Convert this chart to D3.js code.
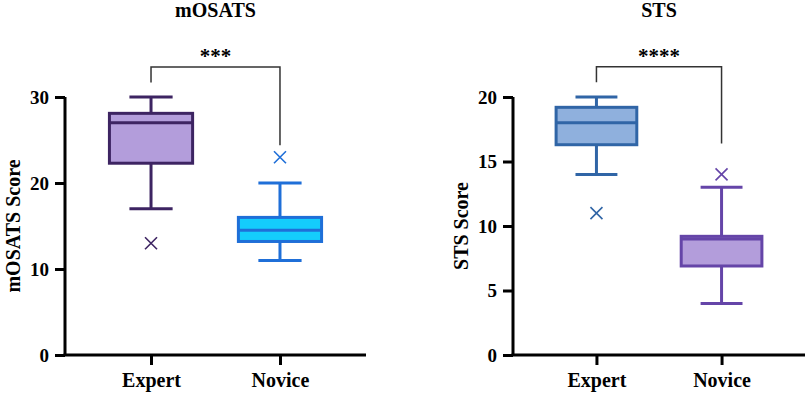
<!DOCTYPE html>
<html>
<head>
<meta charset="utf-8">
<script src="https://cdn.jsdelivr.net/npm/d3@7"></script>
<style>
  body { margin: 0; background: #fff; }
  svg text { font-family: "Liberation Serif", "Times New Roman", serif; font-weight: bold; fill: #000; }
</style>
</head>
<body>
<div id="chart"></div>
<script>
// groups on the x axis
var groups = ["Expert", "Novice"];

// mOSATS box stats per group
var mosatsMin = [17, 11];
var mosatsQ1 = [22.3, 13.2];
var mosatsMedian = [27, 14.5];
var mosatsQ3 = [28.1, 16];
var mosatsMax = [30, 20];
var mosatsOutliers = [[13], [23]];
var mosatsTicks = [0, 10, 20, 30];

// STS box stats per group
var stsMin = [14, 4];
var stsQ1 = [16.3, 6.9];
var stsMedian = [18, 9];
var stsQ3 = [19.2, 9.2];
var stsMax = [20, 13];
var stsOutliers = [[11], [14]];
var stsTicks = [0, 5, 10, 15, 20];

// significance brackets: [top, left leg end, right leg end] in data units
var mosatsBracket = [33.5, 31.7, 24.4];
var stsBracket = [22.35, 21.15, 16.4];

var svg = d3.select("#chart")
  .append("svg")
    .attr("width", 810)
    .attr("height", 394);

function boxPanel(opts) {
  var top = 97, bottom = 355;

  var x = d3.scalePoint()
    .domain(groups)
    .range([opts.left, opts.right])
    .padding(0.667);
  var y = d3.scaleLinear()
    .domain([0, d3.max(opts.ticks)])
    .range([bottom, top]);

  var g = svg.append("g");
  var step = x.step();
  var boxW = step * 0.645;
  var capW = step * 0.335;

  // y axis
  var yAxis = g.append("g")
    .attr("transform", "translate(" + opts.left + ",0)")
    .call(d3.axisLeft(y).tickValues(opts.ticks).tickSize(10).tickPadding(6).tickFormat(d3.format("d")));
  yAxis.select(".domain").attr("stroke-width", 3).attr("d", "M0," + top + "V" + bottom);
  yAxis.selectAll(".tick line").attr("stroke-width", 3);
  yAxis.selectAll(".tick text").style("font-size", "19px");

  // x axis
  var xAxis = g.append("g")
    .attr("transform", "translate(0," + bottom + ")")
    .call(d3.axisBottom(x).tickSize(10).tickPadding(10));
  xAxis.select(".domain").attr("stroke-width", 3).attr("d", "M" + (opts.left - 1.5) + ",0H" + opts.right);
  xAxis.selectAll(".tick line").attr("stroke-width", 3);
  xAxis.selectAll(".tick text").style("font-size", "20px").attr("dy", "0.62em");

  // boxes
  groups.forEach(function (name, i) {
    var cx = x(name);
    var stroke = opts.stroke[i];
    var sw = 3;
    // whiskers
    g.append("line")
      .attr("x1", cx).attr("x2", cx)
      .attr("y1", y(opts.max[i])).attr("y2", y(opts.q3[i]))
      .attr("stroke", stroke).attr("stroke-width", sw);
    g.append("line")
      .attr("x1", cx).attr("x2", cx)
      .attr("y1", y(opts.q1[i])).attr("y2", y(opts.min[i]))
      .attr("stroke", stroke).attr("stroke-width", sw);
    [opts.max[i], opts.min[i]].forEach(function (v) {
      g.append("line")
        .attr("x1", cx - capW / 2).attr("x2", cx + capW / 2)
        .attr("y1", y(v)).attr("y2", y(v))
        .attr("stroke", stroke).attr("stroke-width", sw);
    });
    // box
    g.append("rect")
      .attr("x", cx - boxW / 2)
      .attr("y", y(opts.q3[i]))
      .attr("width", boxW)
      .attr("height", y(opts.q1[i]) - y(opts.q3[i]))
      .attr("fill", opts.fill[i])
      .attr("stroke", stroke).attr("stroke-width", sw);
    g.append("line")
      .attr("x1", cx - boxW / 2).attr("x2", cx + boxW / 2)
      .attr("y1", y(opts.median[i])).attr("y2", y(opts.median[i]))
      .attr("stroke", stroke).attr("stroke-width", sw);
    // outliers as x marks
    opts.outliers[i].forEach(function (v) {
      var s = 6, oy = y(v);
      g.append("path")
        .attr("d", "M" + (cx - s) + "," + (oy - s) + "L" + (cx + s) + "," + (oy + s) +
                   "M" + (cx - s) + "," + (oy + s) + "L" + (cx + s) + "," + (oy - s))
        .attr("stroke", stroke).attr("stroke-width", 1.6).attr("fill", "none");
    });
  });

  // significance bracket
  var b = opts.bracket;
  var x1 = x(groups[0]), x2 = x(groups[1]);
  g.append("path")
    .attr("d", "M" + x1 + "," + y(b[1]) + "V" + y(b[0]) + "H" + x2 + "V" + y(b[2]))
    .attr("fill", "none")
    .attr("stroke", "#333")
    .attr("stroke-width", 1.5);
  g.append("text")
    .attr("x", (x1 + x2) / 2)
    .attr("y", y(b[0]) - 4)
    .attr("text-anchor", "middle")
    .style("font-size", "21px")
    .text(opts.stars);

  // title
  g.append("text")
    .attr("x", (opts.left + opts.right) / 2)
    .attr("y", 17)
    .attr("text-anchor", "middle")
    .style("font-size", "20px")
    .text(opts.title);

  // y label
  g.append("text")
    .attr("transform", "translate(" + opts.labelX + "," + ((top + bottom) / 2) + ") rotate(-90)")
    .attr("text-anchor", "middle")
    .style("font-size", "20px")
    .text(opts.yLabel);
}

boxPanel({
  left: 65, right: 366, labelX: 20,
  title: "mOSATS", yLabel: "mOSATS Score", stars: "***",
  ticks: mosatsTicks,
  min: mosatsMin, q1: mosatsQ1, median: mosatsMedian, q3: mosatsQ3, max: mosatsMax,
  outliers: mosatsOutliers, bracket: mosatsBracket,
  fill: ["#b39ddb", "#14cdfc"], stroke: ["#3d2462", "#1f6fd8"]
});

boxPanel({
  left: 513, right: 805, labelX: 468,
  title: "STS", yLabel: "STS Score", stars: "****",
  ticks: stsTicks,
  min: stsMin, q1: stsQ1, median: stsMedian, q3: stsQ3, max: stsMax,
  outliers: stsOutliers, bracket: stsBracket,
  fill: ["#8fb0dd", "#b39ddb"], stroke: ["#3065a6", "#6545a8"]
});
</script>
</body>
</html>
